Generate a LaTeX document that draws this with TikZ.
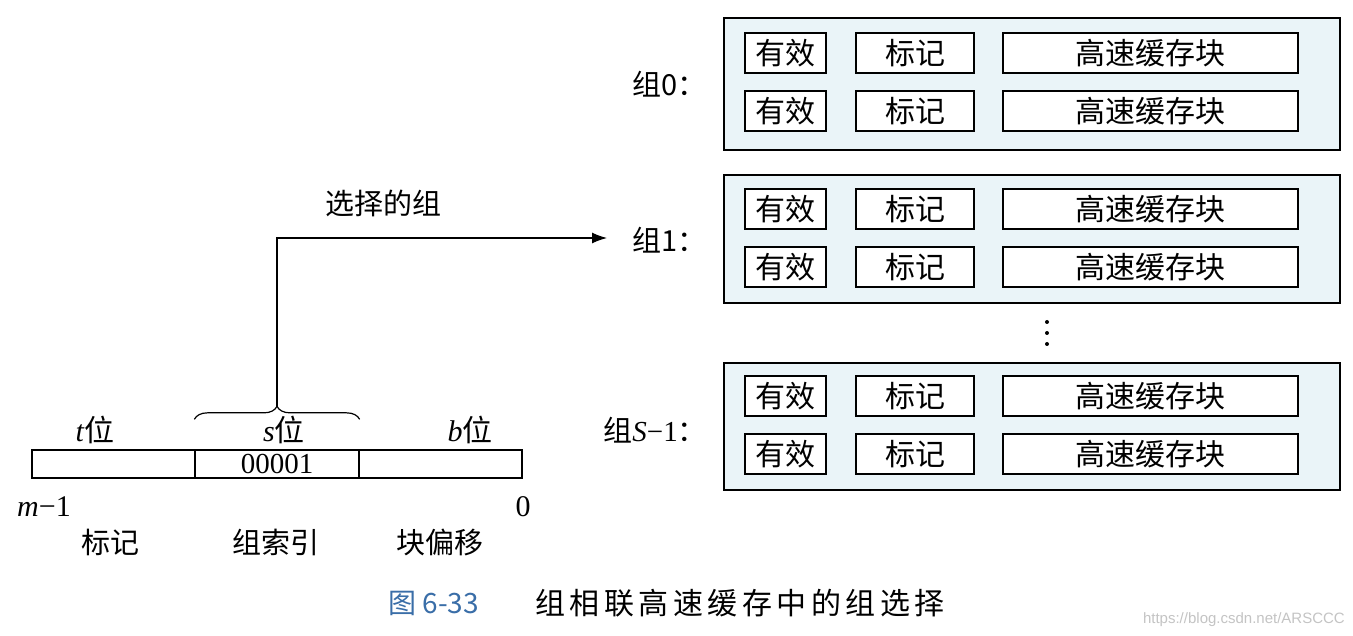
\documentclass[tikz,border=0pt]{standalone}
\usepackage{fontspec}
\setmainfont{Liberation Serif}
\newfontfamily\cjk{Noto Sans CJK SC}
\newfontfamily\cjkcap[LetterSpace=15]{Noto Sans CJK SC}
\newfontfamily\wmfont{Liberation Sans}
\usetikzlibrary{decorations.pathreplacing,arrows.meta}
\definecolor{setblue}{HTML}{EAF4F8}
\definecolor{capblue}{HTML}{3A6EA8}
\definecolor{wmgray}{HTML}{C4C4C4}
\tikzset{
  setbox/.style={draw, line width=1.4pt, fill=setblue, inner sep=0pt, minimum width=616pt},
  selbox/.style={setbox, line width=2.6pt},
  cell/.style={draw, line width=1.3pt, fill=white, inner sep=0pt, minimum height=40pt, font=\cjk\fontsize{30}{30}\selectfont},
  vcell/.style={cell, minimum width=81pt},
  tcell/.style={cell, minimum width=118pt},
  bcell/.style={cell, minimum width=295pt},
  lab/.style={font=\cjk\fontsize{29}{29}\selectfont, inner sep=0pt},
  addr/.style={draw, line width=1.3pt, inner sep=0pt, minimum height=28pt, minimum width=163pt, font=\fontsize{29}{29}\selectfont},
  txt/.style={inner sep=0pt, font=\fontsize{30}{30}\selectfont}
}
\begin{document}
\begin{tikzpicture}[x=1pt,y=-1pt]
\useasboundingbox[fill=white] (0,0) rectangle (1353,636);
% sets
\node[setbox, minimum height=132pt] (set0) at (1032,84) {};
\node[selbox, minimum height=128pt] (set1) at (1032,239) {};
\node[setbox, minimum height=127pt] (setS) at (1032,426.5) {};
\foreach \n/\ya/\yb in {a/53/111, b/209/267, c/396/454}{
  \node[vcell] (v1\n) at (785.5,\ya) {有效};
  \node[tcell] (t1\n) at (915,\ya) {标记};
  \node[bcell] (b1\n) at (1150.5,\ya) {高速缓存块};
  \node[vcell] (v2\n) at (785.5,\yb) {有效};
  \node[tcell] (t2\n) at (915,\yb) {标记};
  \node[bcell] (b2\n) at (1150.5,\yb) {高速缓存块};
}
\node[lab, anchor=east] (g0) at (707,84) {组0：};
\node[lab, anchor=east] (g1) at (707,240) {组1：};
\node[lab, anchor=east] (gS) at (707,430) {组{\fontspec{Liberation Serif}\itshape S}{\fontspec{Liberation Serif}−1}：};
% dots
\foreach \yy in {322,333,344} \fill (1047,\yy) circle (2pt);
% address
\node[addr] (ta) at (113.5,464) {};
\node[addr, minimum width=164pt] (sa) at (277,464) {00001};
\node[addr] (ba) at (440.5,464) {};
\node[txt] (tl) at (95,430) {\textit{t}{\cjk 位}};
\node[txt] (sl) at (284,430) {\textit{s}{\cjk 位}};
\node[txt] (bl) at (470,430) {\textit{b}{\cjk 位}};
\node[txt] (m1) at (44,507) {\textit{m}−1};
\node[txt] (z0) at (523,507) {0};
\node[lab] (n1) at (110,542) {标记};
\node[lab] (n2) at (276,542) {组索引};
\node[lab] (n3) at (440,542) {块偏移};
% brace and arrow
\draw[line width=1.2pt, decorate, decoration={brace, mirror, amplitude=13pt}] ([yshift=30pt]sa.north east) -- ([yshift=30pt]sa.north west);
\coordinate (tip) at (277,407);
\coordinate (aend) at (607,238);
\draw[line width=1.3pt, -{Latex[length=15pt,width=11pt]}] (tip) |- (aend);
\node[lab] (sel) at (383,203) {选择的组};
% caption
\node[inner sep=0pt, anchor=west, text=capblue, font=\cjk\fontsize{28}{28}\selectfont] (cap1) at (388,603) {图 6-33};
\node[inner sep=0pt, anchor=west, font=\cjkcap\fontsize{30}{30}\selectfont] (cap2) at (535,603) {组相联高速缓存中的组选择};
\node[inner sep=0pt, anchor=east, text=wmgray, font=\wmfont\fontsize{15}{15}\selectfont] (wm) at (1345,620) {https://blog.csdn.net/ARSCCC};
\end{tikzpicture}
\end{document}
